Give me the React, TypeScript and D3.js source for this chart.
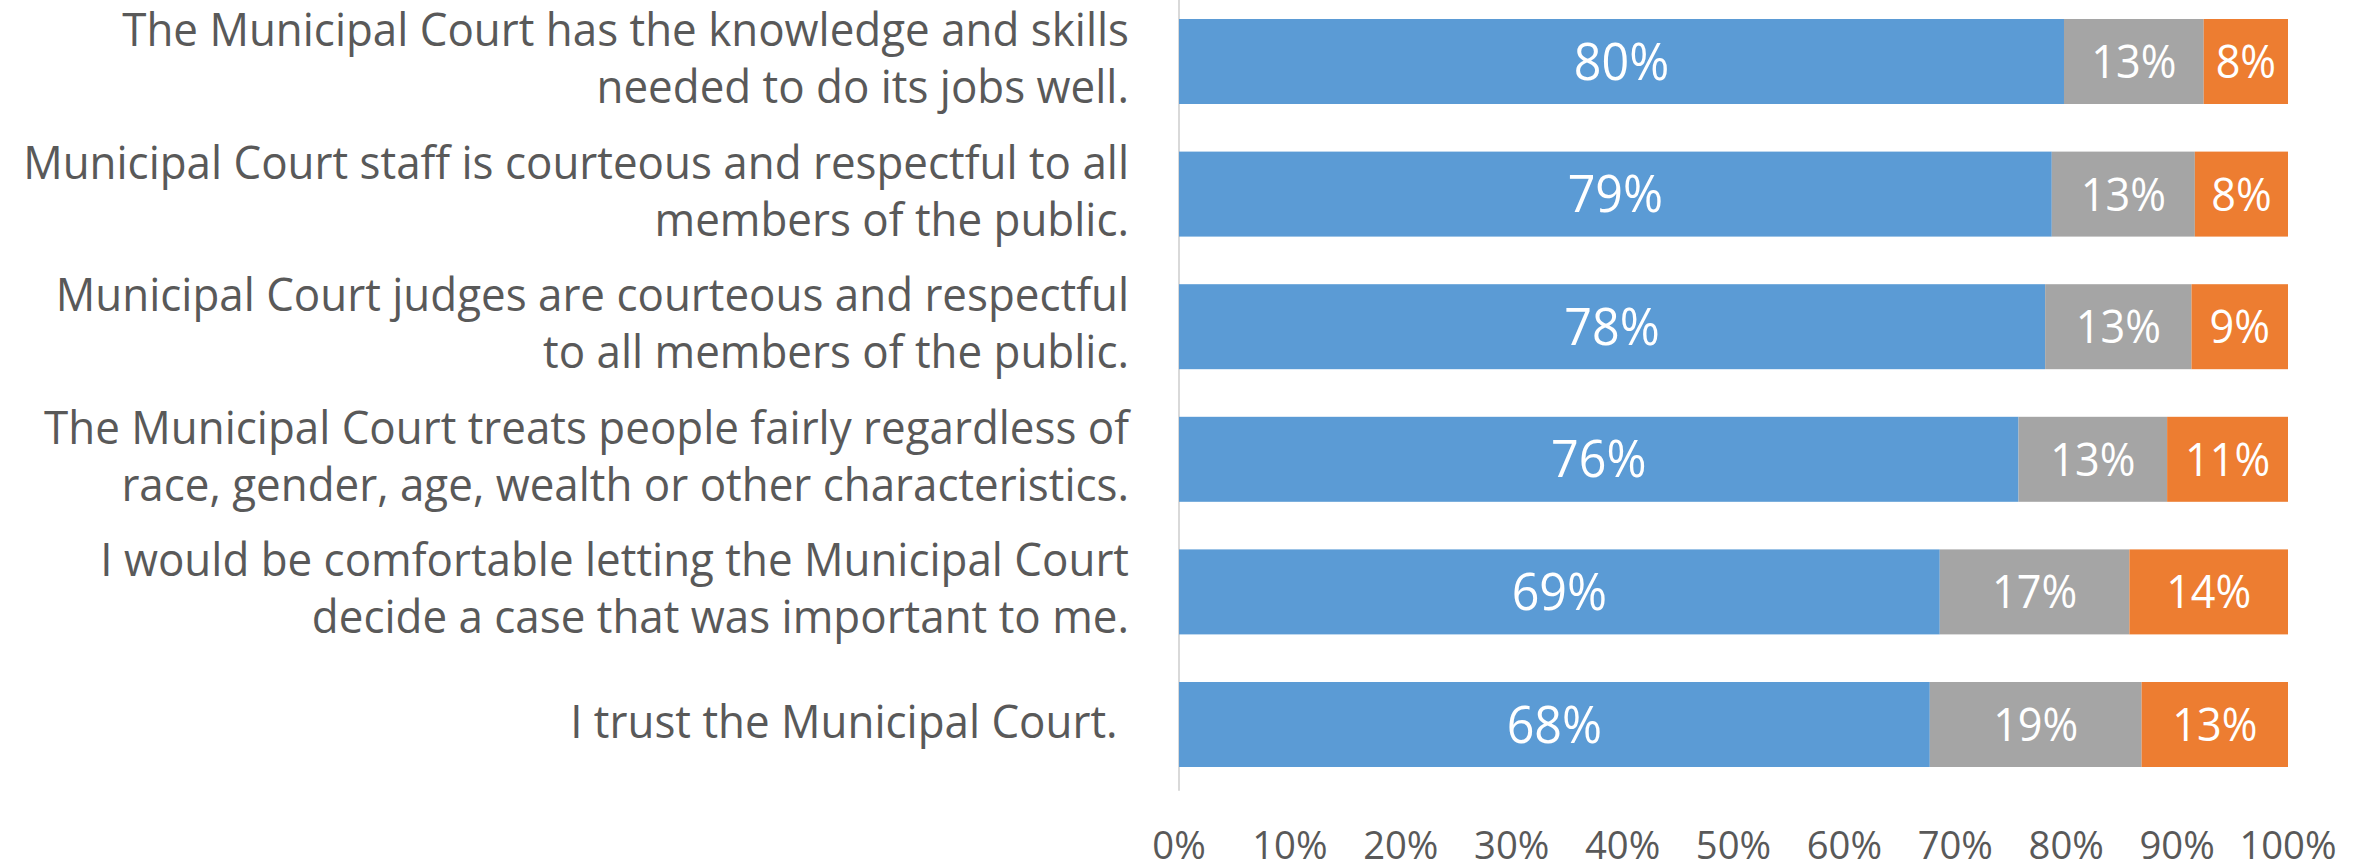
import React from "react";
import * as d3 from "d3";

const categories: string[][] = [
  ["The Municipal Court has the knowledge and skills", "needed to do its jobs well."],
  ["Municipal Court staff is courteous and respectful to all", "members of the public."],
  ["Municipal Court judges are courteous and respectful", "to all members of the public."],
  ["The Municipal Court treats people fairly regardless of", "race, gender, age, wealth or other characteristics."],
  ["I would be comfortable letting the Municipal Court", "decide a case that was important to me."],
  ["I trust the Municipal Court. "],
];

const agree: number[] = [79.8, 78.7, 78.1, 75.7, 68.6, 67.7];
const neutral: number[] = [12.6, 12.9, 13.2, 13.4, 17.1, 19.1];
const disagree: number[] = [7.6, 8.4, 8.7, 10.9, 14.3, 13.2];

const seriesNames = ["Agree", "Neutral", "Disagree"];
const seriesColors = ["#5B9BD5", "#A5A5A5", "#ED7D31"];
const xTicks: number[] = [0, 10, 20, 30, 40, 50, 60, 70, 80, 90, 100];

const W = 2371;
const H = 864;
const FONT = "'Open Sans', 'Liberation Sans', sans-serif";

export default function App() {
  const x = d3.scaleLinear().domain([0, 100]).range([1179, 2288]);
  const keys = categories.map((_, i) => String(i));
  const y = d3
    .scaleBand<string>()
    .domain(keys)
    .range([-4.8, 790.8])
    .paddingInner(0.359)
    .paddingOuter(0.1795);

  const rows = categories.map((c, i) => ({ key: String(i), a: agree[i], n: neutral[i], d: disagree[i] }));
  const stack = d3.stack<any>().keys(["a", "n", "d"])(rows);

  const bw = y.bandwidth();

  return (
    <svg
      width={W}
      height={H}
      style={{ position: "absolute", left: 0, top: 0, background: "#fff" }}
      fontFamily={FONT}
    >
      {/* axis line */}
      <line x1={x(0)} x2={x(0)} y1={0} y2={y.range()[1]} stroke="#D9D9D9" strokeWidth={2} />

      {/* bars */}
      {stack.map((layer, si) => (
        <g key={si}>
          {layer.map((seg, ri) => {
            const key = keys[ri];
            const y0 = y(key)!;
            const x0 = x(seg[0]);
            const x1 = x(seg[1]);
            const val = seg[1] - seg[0];
            const cy = y0 + bw / 2;
            const fs = si === 0 ? 51 : 46;
            const sx = si === 0 ? 0.95 : 0.94;
            return (
              <g key={ri}>
                <rect x={x0} y={y0} width={x1 - x0} height={bw} fill={seriesColors[si]} />
                <text
                  transform={`translate(${(x0 + x1) / 2},${cy + (si === 0 ? 18 : 16.5)}) scale(${sx},1)`}
                  textAnchor="middle"
                  fill="#FFFFFF"
                  fontSize={fs}
                >
                  {`${Math.round(val)}%`}
                </text>
              </g>
            );
          })}
        </g>
      ))}

      {/* category labels */}
      {categories.map((lines, i) => {
        const cy = y(keys[i])! + bw / 2;
        const n = lines.length;
        return (
          <g key={i}>
            {lines.map((ln, j) => (
              <text
                key={j}
                transform={`translate(1129,${cy + (j - (n - 1) / 2) * 57 + 13}) scale(0.955,1)`}
                textAnchor="end"
                fill="#595959"
                fontSize={46}
                style={{ whiteSpace: "pre" }}
              >
                {ln}
              </text>
            ))}
          </g>
        );
      })}

      {/* x tick labels */}
      {xTicks.map((t) => (
        <text
          key={t}
          transform={`translate(${x(t)},859) scale(0.98,1)`}
          textAnchor="middle"
          fill="#595959"
          fontSize={39}
        >
          {`${t}%`}
        </text>
      ))}
    </svg>
  );
}
